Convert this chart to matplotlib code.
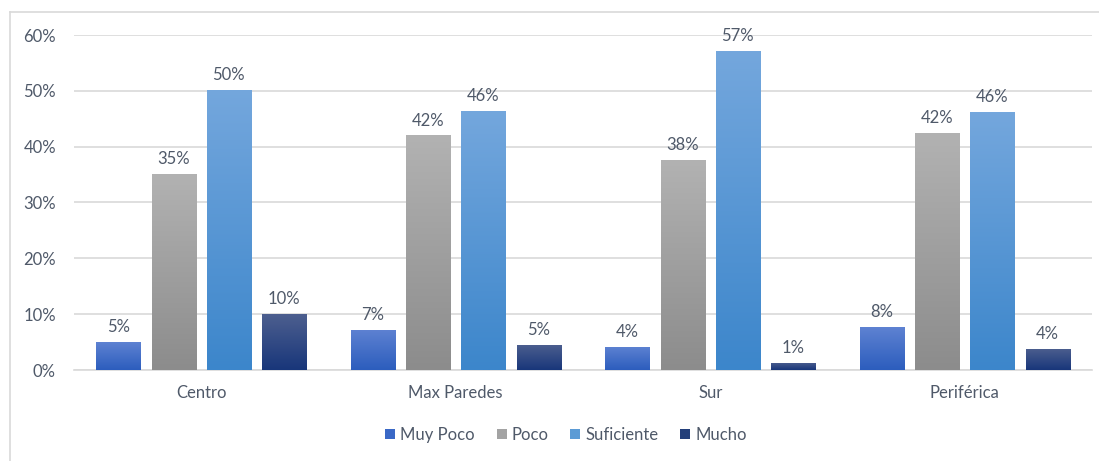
import matplotlib
matplotlib.use("Agg")
import matplotlib.pyplot as plt
import numpy as np
from matplotlib.lines import Line2D
from matplotlib.colors import LinearSegmentedColormap
from matplotlib.patches import Patch

categories = ["Centro", "Max Paredes", "Sur", "Periférica"]
series = ["Muy Poco", "Poco", "Suficiente", "Mucho"]
muy_poco = [0.05, 0.072, 0.042, 0.077]
poco = [0.351, 0.420, 0.376, 0.424]
suficiente = [0.502, 0.464, 0.571, 0.462]
mucho = [0.100, 0.045, 0.013, 0.038]
values = [muy_poco, poco, suficiente, mucho]
labels = [["5%", "7%", "4%", "8%"], ["35%", "42%", "38%", "42%"],
          ["50%", "46%", "57%", "46%"], ["10%", "5%", "1%", "4%"]]
yticks = [0, 0.1, 0.2, 0.3, 0.4, 0.5, 0.6]
ytick_labels = ["0%", "10%", "20%", "30%", "40%", "50%", "60%"]

grad = [("#5e82d2", "#2c5dbd"), ("#b2b2b2", "#8c8c8c"),
        ("#74a7dd", "#3c86cb"), ("#4d5f8f", "#18367a")]
legend_colors = ["#3a68c6", "#a3a3a3", "#5b9bd5", "#233f7a"]

plt.rcParams['font.family'] = ['Lato', 'DejaVu Sans']
text_color = "#4f5969"
fs = 12

fig = plt.figure(figsize=(10.99, 4.61), dpi=100)
ax = fig.add_axes([74/1099, 91/461, (1092-74)/1099, (370-35)/461])

x = np.arange(len(categories))
pitch = 0.2173
width = 0.173
offsets = (np.arange(4) - 1.5) * pitch

for i in range(4):
    cmap = LinearSegmentedColormap.from_list("g%d" % i, [grad[i][1], grad[i][0]])
    bars = ax.bar(x + offsets[i], values[i], width=width, color=legend_colors[i], zorder=3)
    for b, v, lab in zip(bars, values[i], labels[i]):
        x0 = b.get_x()
        g = np.linspace(0, 1, 256).reshape(-1, 1)
        im = ax.imshow(g, cmap=cmap, origin="lower", aspect="auto",
                       extent=[x0, x0 + b.get_width(), 0, v], zorder=3.5)
        im.set_clip_path(b)
        ax.annotate(lab, (x0 + b.get_width()/2, v), xytext=(0, 5), textcoords="offset points",
                    ha="center", va="bottom", fontsize=fs, color=text_color)

ax.set_xlim(-0.5, 3.5)
ax.set_ylim(0, 0.6)
ax.set_yticks(yticks)
ax.set_yticklabels(ytick_labels)
ax.set_xticks(x)
ax.set_xticklabels(categories)
ax.tick_params(axis="both", length=0, labelsize=fs, colors=text_color)
ax.tick_params(axis="y", pad=13)
ax.tick_params(axis="x", pad=11)
ax.grid(axis="y", color="#d9d9d9", linewidth=1.2, zorder=0)
ax.set_axisbelow(True)
for s in ["top", "right", "left"]:
    ax.spines[s].set_visible(False)
ax.spines["bottom"].set_color("#d9d9d9")
ax.spines["bottom"].set_linewidth(1.2)

handles = [Patch(facecolor=c, edgecolor="none") for c in legend_colors]
fig.legend(handles, series, loc="center", bbox_to_anchor=(566/1099, 1 - 435/461), ncol=4,
           frameon=False, fontsize=fs, handlelength=0.6, handleheight=0.6,
           handletextpad=0.3, columnspacing=1.3, labelcolor=text_color)

fig.add_artist(Line2D([10/1099, 10/1099], [0, 1 - 12/461], transform=fig.transFigure,
                      color="#d9d9d9", linewidth=1.2))
fig.add_artist(Line2D([10/1099, 1], [1 - 12/461, 1 - 12/461], transform=fig.transFigure,
                      color="#d9d9d9", linewidth=1.2))

fig.savefig("out.png", dpi=100, facecolor="white")
